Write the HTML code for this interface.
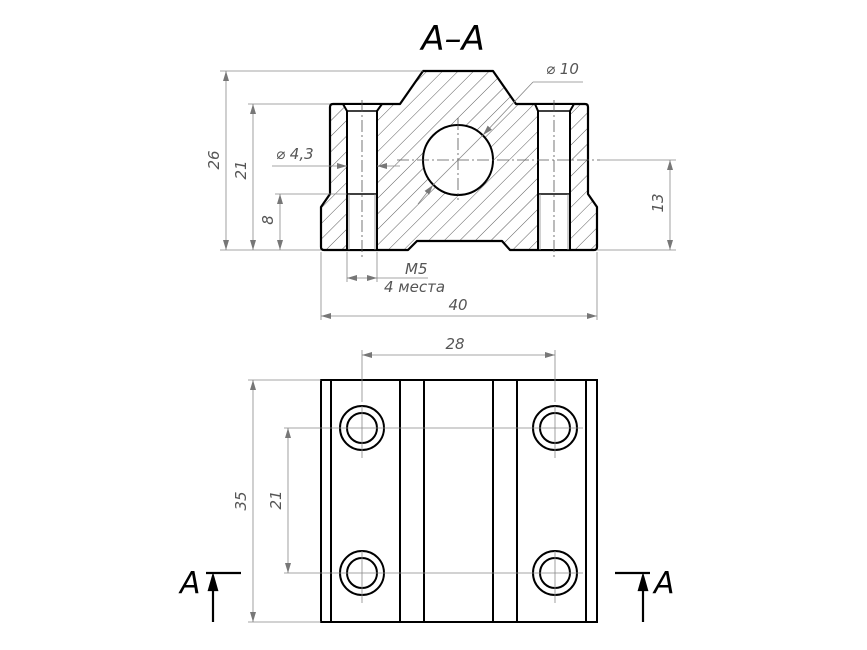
<!DOCTYPE html>
<html><head><meta charset="utf-8"><style>
html,body{margin:0;padding:0;background:#fff}
svg{display:block}
text{font-family:"DejaVu Sans","Liberation Sans",sans-serif;font-style:italic;fill:#555}
</style></head><body>
<svg width="867" height="650" viewBox="0 0 867 650" xmlns="http://www.w3.org/2000/svg">
<defs>
<pattern id="h" width="11" height="11" patternUnits="userSpaceOnUse" patternTransform="rotate(45)">
<line x1="0" y1="0" x2="0" y2="11" stroke="#333" stroke-width="0.8"/>
</pattern>
<marker id="a" viewBox="0 0 10 6" refX="10" refY="3" markerWidth="10" markerHeight="6" orient="auto-start-reverse" markerUnits="userSpaceOnUse">
<path d="M0,0 L10,3 L0,6 z" fill="#777"/>
</marker>
</defs>
<text x="453" y="50" font-size="34" text-anchor="middle" fill="#000" style="fill:#000">A–A</text>
<path d="M423,71 L493,71 L516,104 L585,104 Q588,104 588,107 L588,194 L597,207 L597,247 Q597,250 594,250 L510,250 L502,241 L417,241 L408,250 L324,250 Q321,250 321,247 L321,207 L330,194 L330,107 Q330,104 333,104 L400,104 Z" fill="url(#h)" stroke="#000" stroke-width="2.2" stroke-linejoin="round"/>
<g stroke="#000" stroke-width="2" fill="#fff">
<path d="M343,104 L382,104 L377,111 L377,250 L347,250 L347,111 Z"/>
<path d="M535,104 L574,104 L570,111 L570,250 L538,250 L538,111 Z"/>
<circle cx="458" cy="160" r="35"/>
</g>
<g stroke="#000" stroke-width="1.4">
<line x1="347" y1="111" x2="377" y2="111"/><line x1="538" y1="111" x2="570" y2="111"/>
<line x1="347" y1="194" x2="377" y2="194"/><line x1="538" y1="194" x2="570" y2="194"/>
</g>
<g stroke="#888" stroke-width="0.8" fill="none">
<line x1="349" y1="194" x2="349" y2="250"/><line x1="375" y1="194" x2="375" y2="250"/>
<line x1="540" y1="194" x2="540" y2="250"/><line x1="568" y1="194" x2="568" y2="250"/>
</g>
<g stroke="#555" stroke-width="0.8" stroke-dasharray="12,3,2,3" fill="none">
<line x1="362" y1="100" x2="362" y2="258"/>
<line x1="554" y1="100" x2="554" y2="258"/>
<line x1="458" y1="118" x2="458" y2="200"/>
<line x1="397" y1="160" x2="600" y2="160"/>
</g>
<g stroke="#888" stroke-width="0.8" fill="none">
<line x1="220" y1="71" x2="423" y2="71"/>
<line x1="248" y1="104" x2="330" y2="104"/>
<line x1="275" y1="194" x2="347" y2="194"/>
<line x1="220" y1="250" x2="321" y2="250"/>
<line x1="597" y1="250" x2="676" y2="250"/>
<line x1="600" y1="160" x2="676" y2="160"/>
<line x1="226" y1="71" x2="226" y2="250" marker-start="url(#a)" marker-end="url(#a)"/>
<line x1="253" y1="104" x2="253" y2="250" marker-start="url(#a)" marker-end="url(#a)"/>
<line x1="280" y1="194" x2="280" y2="250" marker-start="url(#a)" marker-end="url(#a)"/>
<line x1="670" y1="160" x2="670" y2="250" marker-start="url(#a)" marker-end="url(#a)"/>
<line x1="321" y1="252" x2="321" y2="320"/><line x1="597" y1="252" x2="597" y2="320"/>
<line x1="321" y1="316" x2="597" y2="316" marker-start="url(#a)" marker-end="url(#a)"/>
<line x1="347" y1="252" x2="347" y2="282"/><line x1="377" y1="252" x2="377" y2="282"/>
<line x1="347" y1="278" x2="377" y2="278" marker-start="url(#a)" marker-end="url(#a)"/>
<line x1="377" y1="278" x2="428" y2="278"/>
<line x1="272" y1="166" x2="347" y2="166" marker-end="url(#a)"/>
<line x1="400" y1="166" x2="377" y2="166" marker-end="url(#a)"/>
<line x1="583" y1="82" x2="533" y2="82"/>
<line x1="533" y1="82" x2="483" y2="135" marker-end="url(#a)"/>
<line x1="418" y1="204" x2="433" y2="185" marker-end="url(#a)"/>
<line x1="433" y1="185" x2="483" y2="135"/>
</g>
<g font-size="15">
<text transform="translate(219,160) rotate(-90)" text-anchor="middle">26</text>
<text transform="translate(246,170) rotate(-90)" text-anchor="middle">21</text>
<text transform="translate(273,220) rotate(-90)" text-anchor="middle">8</text>
<text transform="translate(663,203) rotate(-90)" text-anchor="middle">13</text>
<text x="458" y="310" text-anchor="middle">40</text>
<text x="405" y="274">M5</text>
<text x="384" y="292">4  места</text>
<text x="276" y="159">⌀ 4,3</text>
<text x="546" y="74">⌀ 10</text>
</g>
<g stroke="#000" stroke-width="2" fill="none">
<rect x="321" y="380" width="276" height="242"/>
<line x1="331" y1="380" x2="331" y2="622"/><line x1="400" y1="380" x2="400" y2="622"/>
<line x1="424" y1="380" x2="424" y2="622"/><line x1="493" y1="380" x2="493" y2="622"/>
<line x1="517" y1="380" x2="517" y2="622"/><line x1="586" y1="380" x2="586" y2="622"/>
<circle cx="362" cy="428" r="22"/><circle cx="362" cy="428" r="15"/>
<circle cx="555" cy="428" r="22"/><circle cx="555" cy="428" r="15"/>
<circle cx="362" cy="573" r="22"/><circle cx="362" cy="573" r="15"/>
<circle cx="555" cy="573" r="22"/><circle cx="555" cy="573" r="15"/>
</g>
<g stroke="#888" stroke-width="0.8" fill="none">
<line x1="362" y1="350" x2="362" y2="402"/><line x1="555" y1="350" x2="555" y2="402"/>
<line x1="362" y1="406" x2="362" y2="458"/><line x1="555" y1="406" x2="555" y2="458"/>
<line x1="362" y1="551" x2="362" y2="603"/><line x1="555" y1="551" x2="555" y2="603"/>
<line x1="362" y1="355" x2="555" y2="355" marker-start="url(#a)" marker-end="url(#a)"/>
<line x1="248" y1="380" x2="321" y2="380"/><line x1="248" y1="622" x2="321" y2="622"/>
<line x1="253" y1="380" x2="253" y2="622" marker-start="url(#a)" marker-end="url(#a)"/>
<line x1="284" y1="428" x2="583" y2="428"/><line x1="284" y1="573" x2="583" y2="573"/>
<line x1="288" y1="428" x2="288" y2="573" marker-start="url(#a)" marker-end="url(#a)"/>
</g>
<g font-size="15">
<text x="455" y="349" text-anchor="middle">28</text>
<text transform="translate(246,501) rotate(-90)" text-anchor="middle">35</text>
<text transform="translate(281,500) rotate(-90)" text-anchor="middle">21</text>
</g>
<g stroke="#000" stroke-width="2.2" fill="#000">
<line x1="206" y1="573" x2="241" y2="573"/>
<line x1="213" y1="622" x2="213" y2="588"/>
<path d="M209,590 L213,576 L217,590 Z"/>
<line x1="615" y1="573" x2="650" y2="573"/>
<line x1="643" y1="622" x2="643" y2="588"/>
<path d="M639,590 L643,576 L647,590 Z"/>
</g>
<text x="180" y="593" font-size="30" style="fill:#000">A</text>
<text x="654" y="593" font-size="30" style="fill:#000">A</text>
</svg>
</body></html>
